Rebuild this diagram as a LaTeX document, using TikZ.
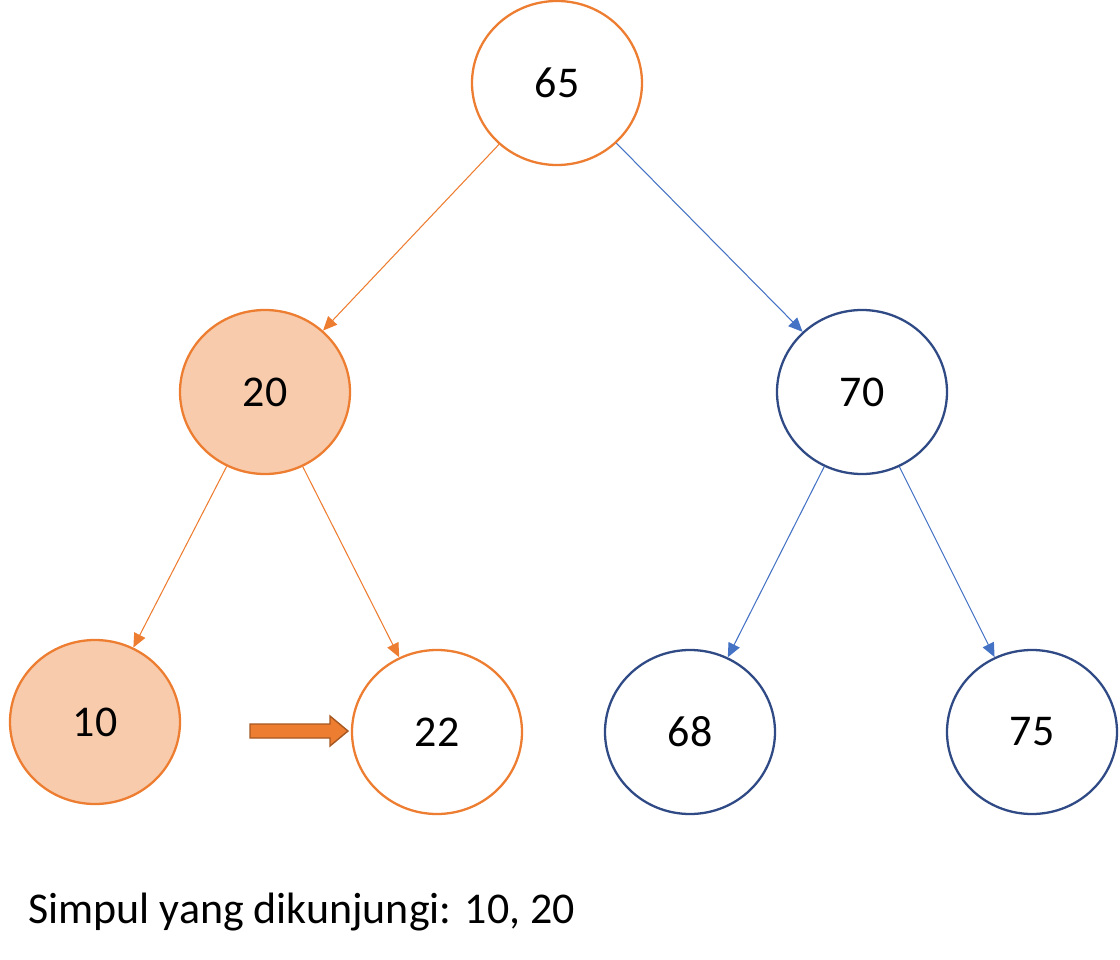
\documentclass[tikz,border=0pt]{standalone}
\usepackage{fontspec}
\setmainfont{Carlito}
\usetikzlibrary{arrows.meta,shapes.geometric}
\definecolor{org}{HTML}{ED7D31}
\definecolor{lorg}{HTML}{F8CBAD}
\definecolor{dblue}{HTML}{2F4A85}
\definecolor{eblue}{HTML}{4472C4}
\begin{document}
\begin{tikzpicture}[x=0.02cm,y=-0.02cm,
  nd/.style={ellipse,minimum width=170*0.02cm,minimum height=164*0.02cm,inner sep=0pt,line width=1.3pt,font=\fontsize{25}{30}\selectfont},
  on/.style={nd,draw=org,fill=white},
  of/.style={nd,draw=org,fill=lorg},
  bn/.style={nd,draw=dblue,fill=white},
  oe/.style={draw=org,line width=0.6pt,-{Triangle[length=8pt,width=7pt]}},
  be/.style={draw=eblue,line width=0.6pt,-{Triangle[length=8pt,width=7pt]}}]
\useasboundingbox (0,0) rectangle (1120,960);
\node[on] (n65) at (557,83) {65};
\node[of] (n20) at (265,392) {20};
\node[bn] (n70) at (862,392) {70};
\node[of] (n10) at (95,722) {10};
\node[on] (n22) at (437,732) {22};
\node[bn] (n68) at (690,732) {68};
\node[bn] (n75) at (1032,732) {75};
\draw[oe] (n65) -- (n20);
\draw[be] (n65) -- (n70);
\draw[oe] (n20) -- (n10);
\draw[oe] (n20) -- (n22);
\draw[be] (n70) -- (n68);
\draw[be] (n70) -- (n75);
\draw[fill=org,draw=org!70!black,line width=0.8pt] (250,724) -- (330,724) -- (330,716) -- (348,731) -- (330,746) -- (330,738) -- (250,738) -- cycle;
\node[anchor=west,font=\fontsize{25}{30}\selectfont,inner sep=0pt] (lbl) at (28,912) {Simpul yang dikunjungi: 10, 20};
\end{tikzpicture}
\end{document}
